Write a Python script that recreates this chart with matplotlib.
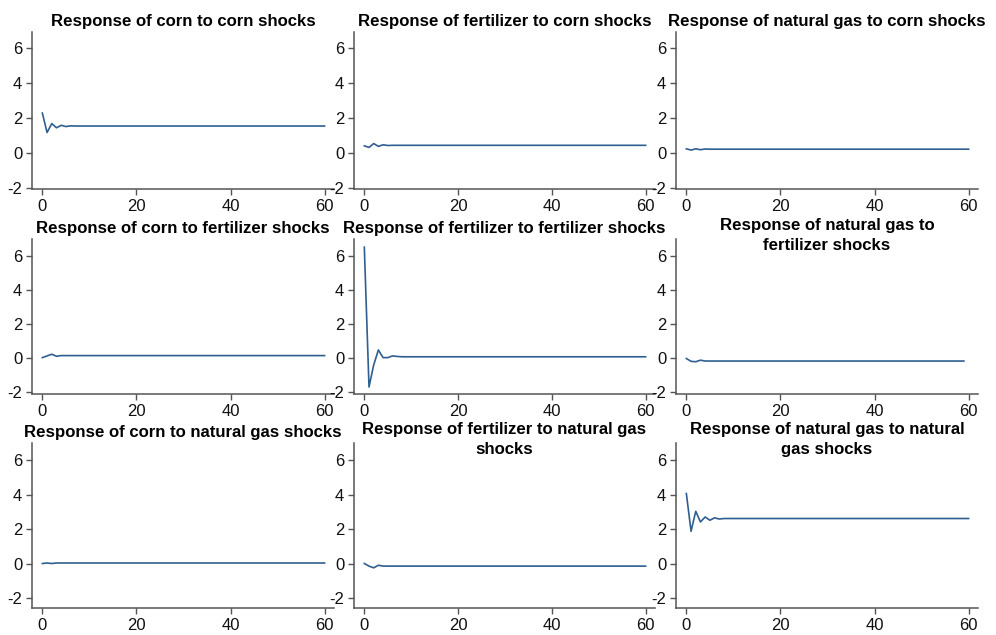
import numpy as np
import matplotlib
matplotlib.use("Agg")
import matplotlib.pyplot as plt

plt.rcParams['font.family'] = ['Liberation Sans', 'DejaVu Sans']
plt.rcParams['axes.unicode_minus'] = False

# horizon (months after the shock)
horizon = list(range(61))

# impulse responses, flat after the first few steps
corn_corn = [2.29, 1.18, 1.69, 1.45, 1.59, 1.52, 1.56] + [1.55] * 54
fert_corn = [0.42, 0.33, 0.55, 0.39, 0.48, 0.44] + [0.45] * 55
gas_corn = [0.25, 0.18, 0.25, 0.2, 0.24] + [0.23] * 56
corn_fert = [0.0, 0.1, 0.2, 0.08, 0.12] + [0.12] * 56
fert_fert = [6.5, -1.73, -0.43, 0.45, 0.0, 0.0, 0.1, 0.07] + [0.05] * 53
gas_fert = [-0.05, -0.22, -0.24, -0.15, -0.2] + [-0.2] * 55
corn_gas = [0.0, 0.03, 0.0] + [0.03] * 58
fert_gas = [0.0, -0.15, -0.25, -0.1] + [-0.15] * 57
gas_gas = [4.06, 1.87, 3.03, 2.41, 2.7, 2.51, 2.65, 2.58] + [2.61] * 53

titles = [
	"Response of corn to corn shocks",
	"Response of fertilizer to corn shocks",
	"Response of natural gas to corn shocks",
	"Response of corn to fertilizer shocks",
	"Response of fertilizer to fertilizer shocks",
	"Response of natural gas to\nfertilizer shocks",
	"Response of corn to natural gas shocks",
	"Response of fertilizer to natural gas\nshocks",
	"Response of natural gas to natural\ngas shocks",
]
series = [corn_corn, fert_corn, gas_corn,
		  corn_fert, fert_fert, gas_fert,
		  corn_gas, fert_gas, gas_gas]

x_ticks = [0, 20, 40, 60]
y_ticks = [-2, 0, 2, 4, 6]

W, H = 996, 635
LINE = '#2f5f90'
AXC = '#555555'
TFS = 12.1

# pixel boxes: columns (left, right) and rows (top, bottom, ylim)
cols = [(32, 334), (354, 655), (676, 978)]
rows = [(32, 189, (-2.04, 6.91)),
		(239, 394, (-2.14, 6.98)),
		(443, 608, (-2.58, 6.99))]

fig = plt.figure(figsize=(W / 100, H / 100), dpi=100)

for i in range(9):
	r, c = divmod(i, 3)
	left, right = cols[c]
	top, bottom, ylim = rows[r]
	ax = fig.add_axes([left / W, 1 - bottom / H, (right - left) / W, (bottom - top) / H])
	n = len(series[i])
	ax.plot(horizon[:n], series[i], color=LINE, lw=1.2)
	ax.set_xlim(-2.2, 62)
	ax.set_ylim(*ylim)
	ax.set_xticks(x_ticks)
	ax.set_yticks(y_ticks)
	for s in ['top', 'right']:
		ax.spines[s].set_visible(False)
	for s in ['left', 'bottom']:
		ax.spines[s].set_color(AXC)
		ax.spines[s].set_linewidth(1.1)
	ax.tick_params(colors=AXC, labelcolor='#111111', labelsize=12,
				   length=4, width=1.0, pad=3)

	# titles sit just above the plot area, two-line ones reach into it
	cx = (left + right) / 2 / W
	if "\n" in titles[i]:
		first, second = titles[i].split("\n")
		fig.text(cx, 1 - (top - 9) / H, first, ha='center', va='baseline',
				 fontsize=TFS, fontweight='bold')
		fig.text(cx, 1 - (top + 11) / H, second, ha='center', va='baseline',
				 fontsize=TFS, fontweight='bold')
	else:
		fig.text(cx, 1 - (top - 6) / H, titles[i], ha='center', va='baseline',
				 fontsize=TFS, fontweight='bold')

fig.savefig("out.png", dpi=100, facecolor='white')
